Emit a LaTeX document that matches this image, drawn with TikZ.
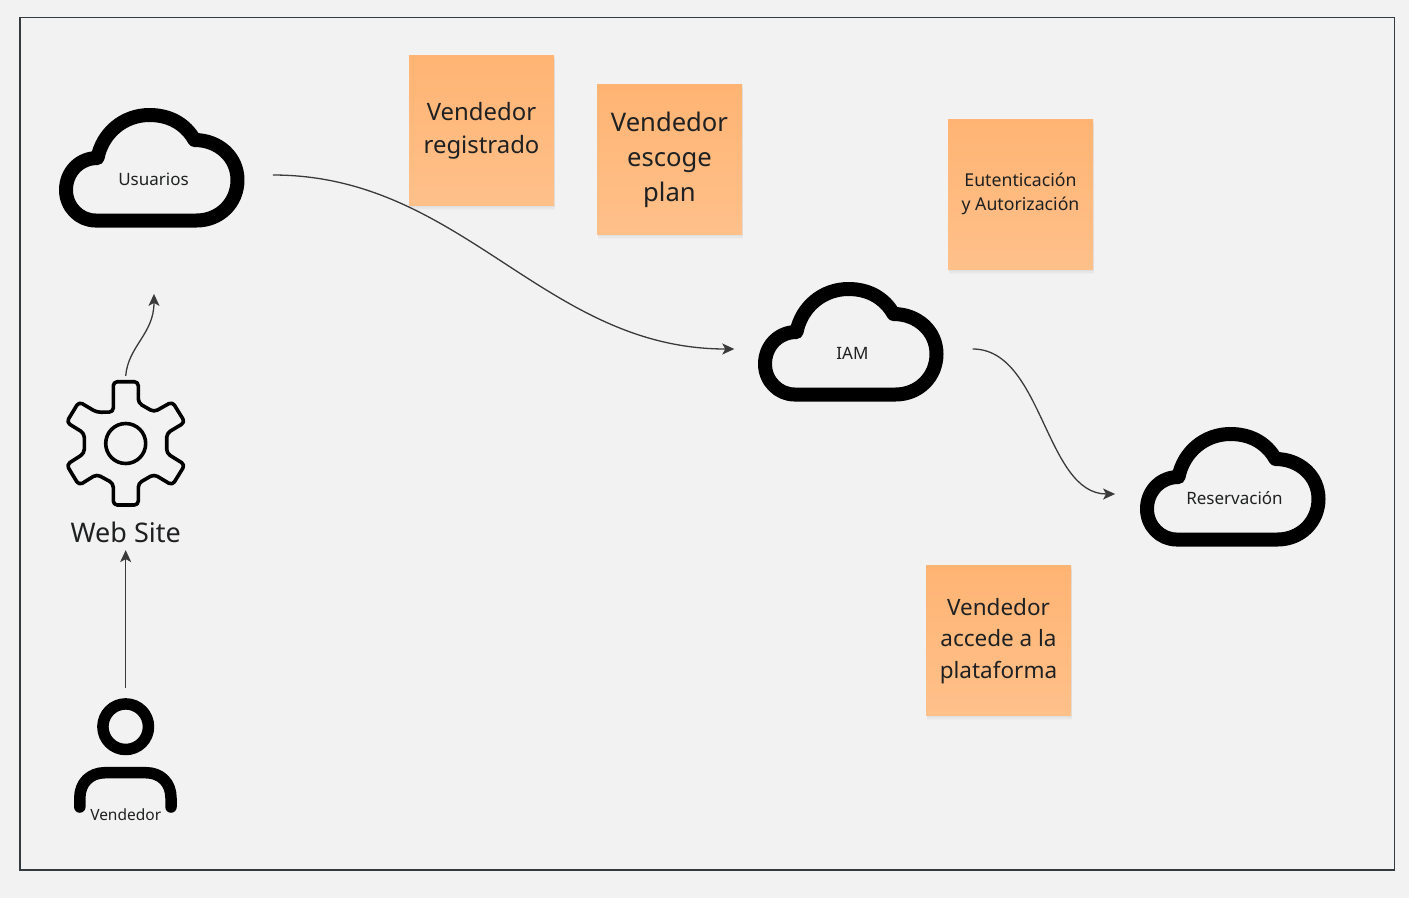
\documentclass[tikz,border=0pt]{standalone}
\usepackage{fontspec}
\setmainfont{Noto Sans}
\usetikzlibrary{arrows.meta}
\definecolor{bgc}{HTML}{F2F2F2}
\definecolor{framec}{HTML}{333B40}
\definecolor{linec}{HTML}{3A3A3A}
\definecolor{stickt}{HTML}{FFB473}
\definecolor{stickb}{HTML}{FFC08A}
\definecolor{txt}{HTML}{1F2021}
\tikzset{
  stick/.style={minimum width=145pt,minimum height=150pt,inner sep=0pt,
    preaction={fill=black,draw=none,opacity=.02,transform canvas={xshift=1pt,yshift=-5pt}},
    preaction={fill=black,draw=none,opacity=.025,transform canvas={xshift=1pt,yshift=-3.5pt}},
    preaction={fill=black,draw=none,opacity=.03,transform canvas={xshift=1pt,yshift=-2pt}},
    top color=stickt,bottom color=stickb},
  stext/.style={inner sep=0pt,align=center,text=txt},
  conn/.style={draw=linec,line width=1.3pt,-{Stealth[length=12pt,width=11pt,inset=3pt]}},
  label/.style={inner sep=0pt,text=txt,align=center},
  glyph/.style={draw=black,line cap=round,line join=round},
  pics/cloud/.style={code={
    \draw[glyph,line width=14pt] (-57,41.5) -- (44,41.5)
      .. controls (67,41.5) and (85,24) .. (85,1)
      .. controls (85,-22) and (66,-39) .. (42,-39)
      .. controls (33,-55) and (17,-64) .. (-3,-64)
      .. controls (-29,-64) and (-50,-46) .. (-55,-21)
      .. controls (-73,-21) and (-86.5,-7) .. (-86.5,11)
      .. controls (-86.5,28) and (-73,41.5) .. (-57,41.5) -- cycle;
  }}
}
\begin{document}
\begin{tikzpicture}[x=1pt,y=-1pt]
\useasboundingbox (0,0) rectangle (1409,898);
\fill[bgc] (0,0) rectangle (1409,898);
\node[draw=framec,line width=1.6pt,fill=bgc,minimum width=1374.5pt,minimum height=852.5pt,inner sep=0pt] (frame) at (707.2,443.7) {};

\node[stick] (s1) at (481.5,130) {};
\node[stick] (s2) at (669.5,159) {};
\node[stick] (s3) at (1020.5,194) {};
\node[stick] (s4) at (998.5,640) {};
\node[stext,font=\fontsize{23.9}{33}\selectfont] (t1) at ([shift={(0,0.5)}]s1.center) {Vendedor\\registrado};
\node[stext,font=\fontsize{25.6}{35}\selectfont] (t2) at ([shift={(0,0.5)}]s2.center) {Vendedor\\escoge\\plan};
\node[stext,font=\fontsize{17.7}{24}\selectfont] (t3) at (s3.center) {Eutenticación\\y Autorización};
\node[stext,font=\fontsize{22.5}{31.5}\selectfont] (t4) at ([shift={(0,1)}]s4.center) {Vendedor\\accede a la\\plataforma};

\node[label,font=\fontsize{17}{22}\selectfont] (usuarios) at (153.5,179) {Usuarios};
\pic at (152.5,179) {cloud};
\node[label,font=\fontsize{17}{22}\selectfont] (iam) at (852.5,353) {IAM};
\pic at (851.5,353) {cloud};
\node[label,font=\fontsize{17}{22}\selectfont] (reserva) at (1234.5,498) {Reservación};
\pic at (1233.5,498) {cloud};

\node[label,font=\fontsize{27}{32}\selectfont] (web) at (125.7,532.5) {Web Site};
\draw[glyph,line width=3.6pt,rounded corners=4pt] (113.3,412) -- (113.3,381.7) -- (138.3,381.7) -- (138.3,403) -- (154,412) -- (172.3,401.7) -- (185,422.3) -- (166.7,433.3) -- (166.7,453.3) -- (185,464.7) -- (172.3,485.3) -- (154,474.3) -- (138.3,483.3) -- (138.3,505) -- (113.3,505) -- (113.3,483.3) -- (96.7,474.3) -- (79,485.3) -- (66.5,464.7) -- (84.3,453.3) -- (84.3,433.3) -- (66.5,422.3) -- (79,401.7) -- (96.7,412.3) -- cycle;
\draw[glyph,line width=3.6pt] (125.7,443.5) circle (20);

\node[label,font=\fontsize{15.5}{20}\selectfont] (vendedor) at (125.7,814.5) {Vendedor};
\draw[glyph,line width=11.5pt] (125.7,726.7) circle (22.8);
\draw[glyph,line width=11.5pt] (79.8,807) -- (79.8,798) .. controls (79.8,783) and (90,772.7) .. (105,772.7) -- (146,772.7) .. controls (161,772.7) and (171,783) .. (171,798) -- (171,807);

\draw[conn] ([shift={(84,-4)}]usuarios.east) .. controls +(190,0) and +(-190,0) .. ([shift={(-102,-4)}]iam.west);
\draw[conn] ([shift={(104,-4)}]iam.east) .. controls +(70,0) and +(-70,0) .. ([shift={(-71,-4)}]reserva.west);
\draw[conn] ([shift={(0,-146)}]web.north) .. controls +(2.5,-30) and +(0,40) .. ([shift={(28.3,-228)}]web.north);
\draw[conn] ([shift={(0,-120)}]vendedor.north) -- ([shift={(0,7)}]web.south);
\end{tikzpicture}
\end{document}
